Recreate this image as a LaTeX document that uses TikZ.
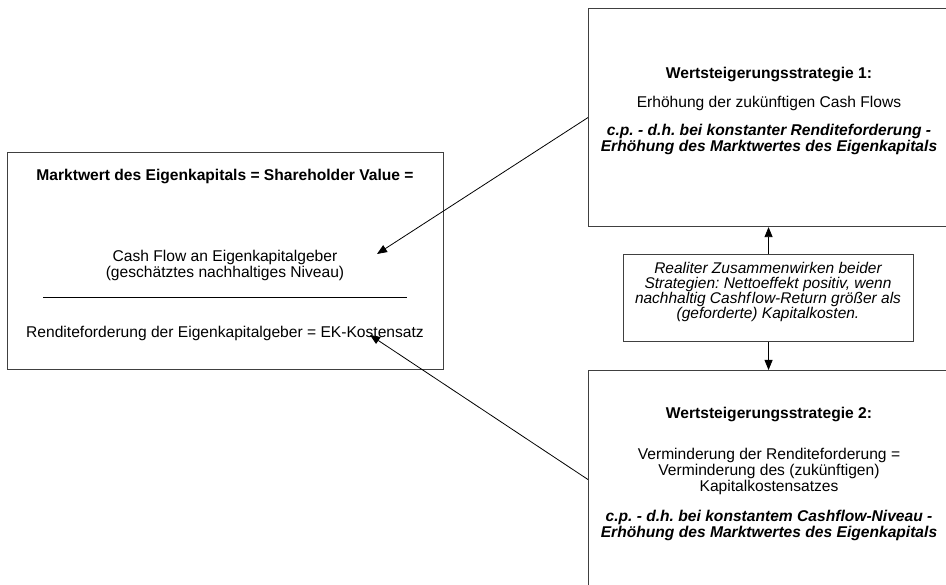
\documentclass[tikz,border=0pt]{standalone}
\usepackage{fontspec}
\setmainfont{Liberation Sans}
\usetikzlibrary{arrows.meta}
\frenchspacing
\begin{document}
\begin{tikzpicture}[x=1pt,y=-1pt,
  box/.style={draw=black!75, line width=1.1pt, rectangle, inner sep=0pt},
  txt/.style={align=center, font=\fontsize{15.6}{16}\selectfont, inner sep=0pt},
  btxt/.style={align=center, font=\fontsize{15.6}{16}\selectfont\bfseries, inner sep=0pt},
  bitxt/.style={align=center, font=\fontsize{15.6}{16}\selectfont\bfseries\itshape, inner sep=0pt},
  mtxt/.style={align=center, font=\fontsize{15.5}{14.7}\selectfont\itshape, inner sep=0pt},
  arr/.style={-{Triangle[length=10pt,width=8pt]}, line width=0.8pt}]
\clip (0,0) rectangle (946,585);
% boxes
\node[box, minimum width=436pt, minimum height=217pt, anchor=north west] (mw) at (7,152) {};
\node[box, minimum width=362pt, minimum height=218pt, anchor=north west] (tr) at (588,8) {};
\node[box, minimum width=362pt, minimum height=218pt, anchor=north west] (br) at (588,370) {};
\node[box, minimum width=290pt, minimum height=87pt, anchor=north west] (mid) at (623,254) {};
% left box texts
\node[btxt] (mwt) at (225,177) {Marktwert des Eigenkapitals = Shareholder Value =};
\node[txt] (cf) at (225,265.5) {Cash Flow an Eigenkapitalgeber\\(geschätztes nachhaltiges Niveau)};
\coordinate (fl) at (43,297);
\coordinate (fr) at (407,297);
\draw[line width=0.9pt] (fl) -- (fr);
\node[txt] (rf) at (225,333) {Renditeforderung der Eigenkapitalgeber = EK-Kostensatz};
% top right texts
\node[btxt] (s1h) at (769,75) {Wertsteigerungsstrategie 1:};
\node[txt] (s1a) at (769,103) {Erhöhung der zukünftigen Cash Flows};
\node[bitxt] (s1b) at (769,139.5) {c.p. - d.h. bei konstanter Renditeforderung -\\Erhöhung des Marktwertes des Eigenkapitals};
% middle texts
\node[mtxt] (midt) at (768,292) {Realiter Zusammenwirken beider\\Strategien: Nettoeffekt positiv, wenn\\nachhaltig Cashf\kern1.5pt low-Return größer als\\(geforderte) Kapitalkosten.};
% bottom right texts
\node[btxt] (s2h) at (769,415) {Wertsteigerungsstrategie 2:};
\node[txt] (s2a) at (769,471) {Verminderung der Renditeforderung =\\Verminderung des (zukünftigen)\\Kapitalkostensatzes};
\node[bitxt] (s2b) at (769,525.5) {c.p. - d.h. bei konstantem Cashflow-Niveau -\\Erhöhung des Marktwertes des Eigenkapitals};
% connectors
\coordinate (t1) at (377,254);
\coordinate (t2) at (370,335);
\draw[arr] (tr.west) -- (t1);
\draw[arr] (br.west) -- (t2);
\draw[arr] (mid.north) -- (mid.north |- tr.south);
\draw[arr] (mid.south) -- (mid.south |- br.north);
\end{tikzpicture}
\end{document}
